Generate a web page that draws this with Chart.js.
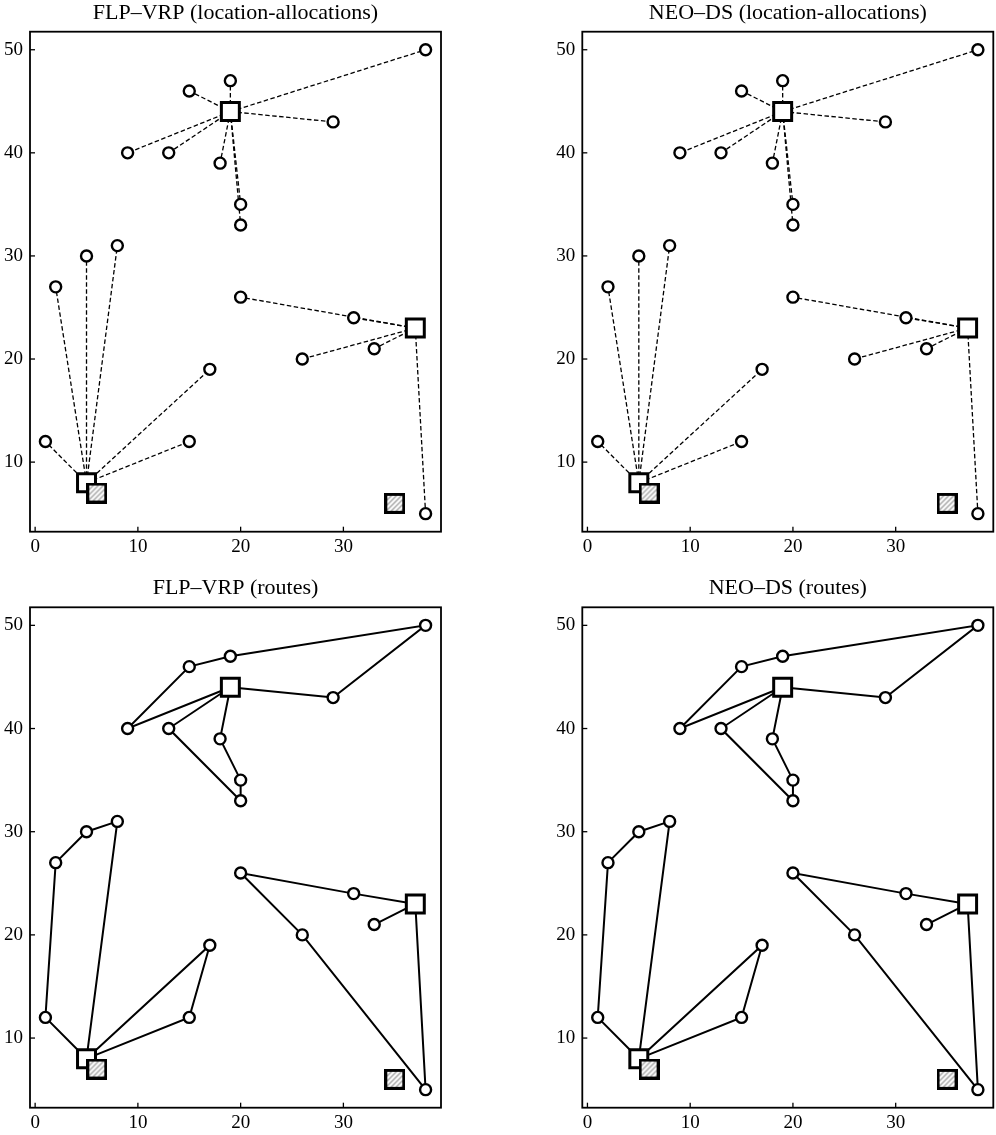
<!DOCTYPE html>
<html>
<head>
<meta charset="utf-8">
<script src="https://cdn.jsdelivr.net/npm/chart.js@4/dist/chart.umd.min.js"></script>
<style>
  body { margin: 0; background: #fff; }
  #wrap { position: relative; width: 996px; height: 1135px; overflow: hidden; }
  canvas { position: absolute; }
</style>
</head>
<body>
<div id="wrap">
  <canvas id="flp-alloc"></canvas>
  <canvas id="neo-alloc"></canvas>
  <canvas id="flp-routes"></canvas>
  <canvas id="neo-routes"></canvas>
</div>
<script>
// customers (circles)
const customerX = [38, 19, 15, 29, 9, 13, 18, 20, 20, 8, 5, 2, 20, 31, 33, 26, 17, 1, 15, 38];
const customerY = [50, 47, 46, 43, 40, 40, 39, 35, 33, 31, 30, 27, 26, 24, 21, 20, 19, 12, 12, 5];

// opened facilities (open squares) and depots (hatched squares)
const facilityX = [19, 37, 5];
const facilityY = [44, 23, 8];
const depotX = [6, 35];
const depotY = [7, 6];

// facility index of each customer
const flpAllocation = [0, 0, 0, 0, 0, 0, 0, 0, 0, 2, 2, 2, 1, 1, 1, 1, 2, 2, 2, 1];
const neoAllocation = [0, 0, 0, 0, 0, 0, 0, 0, 0, 2, 2, 2, 1, 1, 1, 1, 2, 2, 2, 1];

// routes: start facility + customer stops, back to the facility
const flpRouteFacility = [0, 0, 1, 1, 2, 2];
const flpRouteStops = [[3, 0, 1, 2, 4], [5, 8, 7, 6], [13, 12, 15, 19], [14], [17, 11, 10, 9], [16, 18]];
const neoRouteFacility = [0, 0, 1, 1, 2, 2];
const neoRouteStops = [[3, 0, 1, 2, 4], [5, 8, 7, 6], [13, 12, 15, 19], [14], [17, 11, 10, 9], [16, 18]];

const xTicks = [0, 10, 20, 30];
const yTicks = [10, 20, 30, 40, 50];
const titles = ['FLP\u2013VRP (location-allocations)', 'NEO\u2013DS (location-allocations)', 'FLP\u2013VRP (routes)', 'NEO\u2013DS (routes)'];

const FONT = '"Liberation Serif", "Times New Roman", serif';

// hatched square used as point style for depots
const hatch = document.createElement('canvas');
hatch.width = 21; hatch.height = 21;
(() => {
  const c = hatch.getContext('2d');
  c.fillStyle = '#fff';
  c.fillRect(0, 0, 21, 21);
  c.strokeStyle = '#a8a8a8';
  c.lineWidth = 1.5;
  for (let k = -21; k < 42; k += 5) {
    c.beginPath();
    c.moveTo(k, 21);
    c.lineTo(k + 21, 0);
    c.stroke();
  }
  c.strokeStyle = '#000';
  c.lineWidth = 3;
  c.strokeRect(1.5, 1.5, 18, 18);
})();

const framePlugin = {
  id: 'frame',
  afterDraw(chart) {
    const { ctx, chartArea: a, scales: { x, y } } = chart;
    ctx.save();
    ctx.strokeStyle = '#000';
    ctx.lineWidth = 1.3;
    xTicks.forEach(v => {
      const px = x.getPixelForValue(v);
      ctx.beginPath(); ctx.moveTo(px, a.bottom); ctx.lineTo(px, a.bottom - 5); ctx.stroke();
    });
    yTicks.forEach(v => {
      const py = y.getPixelForValue(v);
      ctx.beginPath(); ctx.moveTo(a.left, py); ctx.lineTo(a.left + 5, py); ctx.stroke();
    });
    ctx.lineWidth = 1.8;
    ctx.strokeRect(a.left, a.top, a.right - a.left, a.bottom - a.top);
    ctx.restore();
  }
};

const cust = i => ({ x: customerX[i], y: customerY[i] });
const fac = i => ({ x: facilityX[i], y: facilityY[i] });

const lineSet = (data, dashed) => ({
  data,
  showLine: true,
  pointRadius: 0,
  borderColor: '#000',
  borderWidth: dashed ? 1.3 : 2,
  borderDash: dashed ? [4.5, 2.5] : [],
  order: 3
});

const markerSets = () => [
  {
    data: depotX.map((x, i) => ({ x, y: depotY[i] })),
    pointStyle: hatch,
    pointRadius: 10,
    order: 0
  },
  {
    data: facilityX.map((x, i) => ({ x, y: facilityY[i] })),
    pointStyle: 'rect',
    pointRadius: 12.7,
    borderWidth: 3,
    borderColor: '#000',
    backgroundColor: '#fff',
    order: 1
  },
  {
    data: customerX.map((x, i) => ({ x, y: customerY[i] })),
    pointStyle: 'circle',
    pointRadius: 5.5,
    borderWidth: 2.4,
    borderColor: '#000',
    backgroundColor: '#fff',
    order: 2
  }
];

const allocationSets = (alloc) =>
  alloc.map((f, i) => lineSet([fac(f), cust(i)], true));

const routeSets = (routeFac, routeStops) =>
  routeFac.map((f, r) => lineSet([fac(f), ...routeStops[r].map(cust), fac(f)], false));

const panels = [
  { id: 'flp-alloc', left: 0, top: 0, w: 498, h: 567, padL: 0, padR: 57, xH: 35.3, tTop: 0, tBot: 5.3,
    sets: () => allocationSets(flpAllocation) },
  { id: 'neo-alloc', left: 498, top: 0, w: 498, h: 567, padL: 54.3, padR: 2.7, xH: 35.3, tTop: 0, tBot: 5.3,
    sets: () => allocationSets(neoAllocation) },
  { id: 'flp-routes', left: 0, top: 567, w: 498, h: 568, padL: 0, padR: 57, xH: 27.3, tTop: 8, tBot: 5.9,
    sets: () => routeSets(flpRouteFacility, flpRouteStops) },
  { id: 'neo-routes', left: 498, top: 567, w: 498, h: 568, padL: 54.3, padR: 2.7, xH: 27.3, tTop: 8, tBot: 5.9,
    sets: () => routeSets(neoRouteFacility, neoRouteStops) }
];

panels.forEach((p, k) => {
  const cv = document.getElementById(p.id);
  cv.width = p.w; cv.height = p.h;
  cv.style.left = p.left + 'px';
  cv.style.top = p.top + 'px';
  cv.style.width = p.w + 'px';
  cv.style.height = p.h + 'px';

  new Chart(cv.getContext('2d'), {
    type: 'scatter',
    data: { datasets: [...markerSets(), ...p.sets()] },
    options: {
      responsive: false,
      animation: false,
      events: [],
      clip: false,
      layout: { autoPadding: false, padding: { left: p.padL, right: p.padR, top: 0, bottom: 0 } },
      plugins: {
        legend: { display: false },
        tooltip: { enabled: false },
        title: {
          display: true,
          text: titles[k],
          fullSize: false,
          color: '#000',
          font: { family: FONT, size: 22, weight: 'normal', lineHeight: 1.2 },
          padding: { top: p.tTop, bottom: p.tBot }
        }
      },
      scales: {
        x: {
          type: 'linear',
          min: -0.5,
          max: 39.5,
          afterBuildTicks: s => { s.ticks = xTicks.map(v => ({ value: v })); },
          afterFit: s => { s.height = p.xH; },
          grid: { display: false, drawTicks: false },
          border: { display: false },
          ticks: { color: '#000', padding: 4, maxRotation: 0, font: { family: FONT, size: 19 } }
        },
        y: {
          type: 'linear',
          min: 3.25,
          max: 51.75,
          afterBuildTicks: s => { s.ticks = yTicks.map(v => ({ value: v })); },
          afterFit: s => { s.width = 30; },
          grid: { display: false, drawTicks: false },
          border: { display: false },
          ticks: { color: '#000', padding: 7, font: { family: FONT, size: 19 } }
        }
      }
    },
    plugins: [framePlugin]
  });
});
</script>
</body>
</html>
